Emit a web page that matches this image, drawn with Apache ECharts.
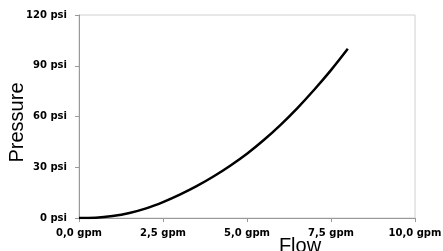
<!DOCTYPE html>
<html><head><meta charset="utf-8">
<script src="https://cdn.jsdelivr.net/npm/echarts@6/dist/echarts.min.js"></script>
<style>html,body{margin:0;padding:0;background:#fff}#c{width:443px;height:251px}</style>
</head><body><div id="c"></div>
<script>
const flow = [0, 0.5, 1, 1.5, 2, 2.5, 3, 3.5, 4, 4.5, 5, 5.5, 6, 6.5, 7, 7.5, 8];
const pressure = [0, 0.2, 1.2, 3.0, 5.7, 9.4, 13.8, 18.8, 24.5, 30.9, 38.0, 46.1, 55.1, 65.0, 75.8, 87.4, 100];
const xTicks = [0, 2.5, 5, 7.5, 10];
const yTicks = [0, 30, 60, 90, 120];
const xName = 'Flow';
const yName = 'Pressure';

const chart = echarts.init(document.getElementById('c'));
const tickFont = {fontFamily: 'DejaVu Sans', fontWeight: 'bold', fontSize: 10, color: '#000'};
chart.setOption({
  animation: false,
  grid: {left: 79, right: 28, top: 15, bottom: 33, show: true, borderColor: '#d0d0d0', borderWidth: 1,
         containLabel: false, outerBoundsMode: 'none'},
  xAxis: {
    type: 'value', min: xTicks[0], max: xTicks[xTicks.length - 1], interval: 2.5,
    name: xName, nameLocation: 'middle', nameGap: 18, nameMoveOverlap: false,
    nameTextStyle: {fontFamily: 'Liberation Sans', fontSize: 20, color: '#000', padding: [0, 0, 0, 106]},
    axisLine: {lineStyle: {color: '#999', width: 1}},
    axisTick: {show: true, length: 4, lineStyle: {color: '#999'}},
    splitLine: {show: false},
    axisLabel: Object.assign({margin: 10, formatter: v => v.toFixed(1).replace('.', ',') + ' gpm'}, tickFont)
  },
  yAxis: {
    type: 'value', min: yTicks[0], max: yTicks[yTicks.length - 1], interval: 30,
    name: yName, nameLocation: 'middle', nameGap: 52, nameRotate: 90, nameMoveOverlap: false,
    nameTextStyle: {fontFamily: 'Liberation Sans', fontSize: 20, color: '#000', padding: [0, 12, 0, 0]},
    axisLine: {show: true, lineStyle: {color: '#999', width: 1}},
    axisTick: {show: true, length: 4, lineStyle: {color: '#999'}},
    splitLine: {show: false},
    axisLabel: Object.assign({margin: 12, formatter: v => v + ' psi'}, tickFont)
  },
  series: [{
    type: 'line', smooth: 0.4, showSymbol: false,
    data: flow.map((f, i) => [f, pressure[i]]),
    lineStyle: {color: '#000', width: 2.5}
  }]
});
</script></body></html>
